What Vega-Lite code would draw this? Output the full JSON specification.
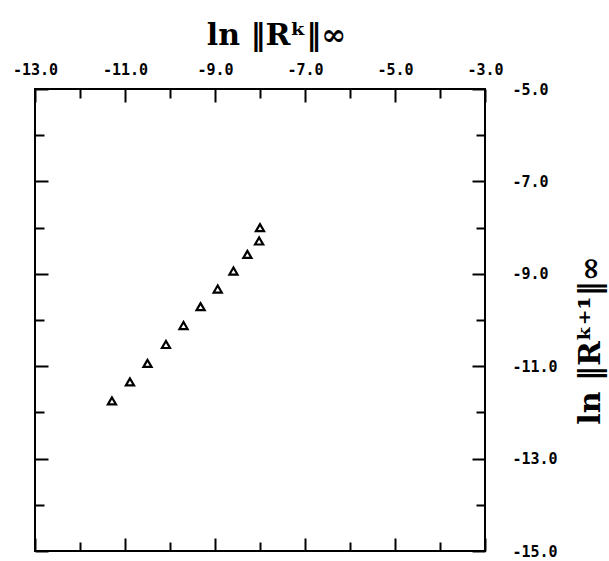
{
  "$schema": "https://vega.github.io/schema/vega-lite/v6.json",
  "width": 450,
  "height": 462,
  "autosize": {"type": "none"},
  "padding": {"left": 35, "top": 89, "right": 124, "bottom": 10},
  "background": "white",
  "config": {
    "view": {"stroke": "black", "strokeWidth": 2},
    "axis": {
      "domain": false,
      "grid": false,
      "tickColor": "black",
      "tickWidth": 2,
      "labelFont": "DejaVu Sans Mono",
      "labelFontWeight": "bold",
      "labelFontSize": 15,
      "labelColor": "black",
      "labelFlush": false,
      "labelOverlap": false,
      "titleFont": "DejaVu Serif",
      "titleFontWeight": "bold",
      "titleFontSize": 30,
      "titleColor": "black"
    }
  },
  "data": {
    "values": [
      {"rk": -8.00, "rk1": -8.00},
      {"rk": -8.02, "rk1": -8.29},
      {"rk": -8.28, "rk1": -8.58},
      {"rk": -8.59, "rk1": -8.94},
      {"rk": -8.94, "rk1": -9.33},
      {"rk": -9.32, "rk1": -9.71},
      {"rk": -9.70, "rk1": -10.12},
      {"rk": -10.09, "rk1": -10.53},
      {"rk": -10.50, "rk1": -10.94},
      {"rk": -10.89, "rk1": -11.34},
      {"rk": -11.29, "rk1": -11.75}
    ]
  },
  "layer": [
    {
      "mark": {"type": "point", "shape": "triangle-up", "filled": false, "size": 66, "strokeWidth": 2.2, "color": "black", "opacity": 1},
      "encoding": {
        "x": {
          "field": "rk", "type": "quantitative",
          "scale": {"domain": [-13, -3], "nice": false, "zero": false},
          "axis": {
            "orient": "top",
            "values": [-13, -12, -11, -10, -9, -8, -7, -6, -5, -4, -3],
            "tickSize": {"condition": {"test": "datum.value % 2 != 0", "value": -13}, "value": -9},
            "labelExpr": "datum.value % 2 != 0 ? datum.value + '.0' : ''",
            "labelPadding": 25,
            "title": "ln ‖Rᵏ‖∞",
            "titlePadding": 8,
            "titleX": 241
          }
        },
        "y": {
          "field": "rk1", "type": "quantitative",
          "scale": {"domain": [-15, -5], "nice": false, "zero": false},
          "axis": {
            "orient": "right",
            "values": [-15, -14, -13, -12, -11, -10, -9, -8, -7, -6, -5],
            "tickSize": {"condition": {"test": "datum.value % 2 != 0", "value": -13}, "value": -9},
            "labelExpr": "datum.value % 2 != 0 ? datum.value + '.0' : ''",
            "labelPadding": 40,
            "title": "ln ‖Rᵏ⁺¹‖∞",
            "titleAngle": 270,
            "titleAlign": "center",
            "titleBaseline": "middle",
            "titleX": 105,
            "titleY": 251
          }
        }
      }
    },
    {
      "mark": {"type": "point", "opacity": 0},
      "encoding": {
        "x": {
          "field": "rk", "type": "quantitative",
          "axis": {
            "orient": "bottom",
            "values": [-13, -12, -11, -10, -9, -8, -7, -6, -5, -4, -3],
            "tickSize": {"condition": {"test": "datum.value % 2 != 0", "value": -13}, "value": -9},
            "labels": false,
            "title": null
          }
        },
        "y": {
          "field": "rk1", "type": "quantitative",
          "axis": {
            "orient": "left",
            "values": [-15, -14, -13, -12, -11, -10, -9, -8, -7, -6, -5],
            "tickSize": {"condition": {"test": "datum.value % 2 != 0", "value": -13}, "value": -9},
            "labels": false,
            "title": null
          }
        }
      }
    }
  ],
  "resolve": {"axis": {"x": "independent", "y": "independent"}}
}
